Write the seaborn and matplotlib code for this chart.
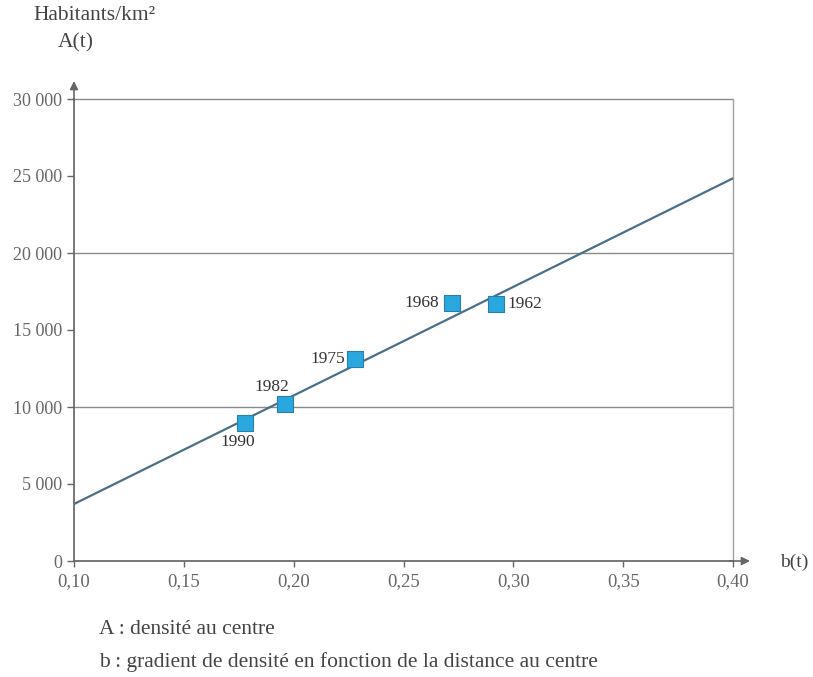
import matplotlib
matplotlib.use("Agg")
import matplotlib.pyplot as plt
import seaborn as sns
import pandas as pd
from matplotlib.ticker import FixedLocator, FuncFormatter

# Data
years = ["1990", "1982", "1975", "1968", "1962"]
b_vals = [0.178, 0.196, 0.228, 0.272, 0.292]
A_vals = [8980, 10190, 13100, 16770, 16690]
fit_b = [0.10, 0.40]
fit_A = [3700, 24850]
x_ticks = [0.10, 0.15, 0.20, 0.25, 0.30, 0.35, 0.40]
y_ticks = [0, 5000, 10000, 15000, 20000, 25000, 30000]
grid_y = [10000, 20000, 30000]

sns.set_theme(style="white")
plt.rcParams["font.family"] = ["Liberation Serif", "DejaVu Serif"]

df = pd.DataFrame({"year": years, "b": b_vals, "A": A_vals})
fit = pd.DataFrame({"b": fit_b, "A": fit_A})

fig = plt.figure(figsize=(8.13, 6.77), dpi=100)
L, R, T, B = 74, 733, 99, 561
ax = fig.add_axes([L/813, 1-B/677, (R-L)/813, (B-T)/677])

for gy in grid_y:
    ax.axhline(gy, color="#8a8a8a", lw=1.0, zorder=1, clip_on=False)
ax.axvline(0.40, color="#a0a0a0", lw=1.0, zorder=1, clip_on=False)

sns.lineplot(data=fit, x="b", y="A", ax=ax, color="#4a7089", lw=1.6, zorder=2)
sns.scatterplot(data=df, x="b", y="A", ax=ax, marker="s", s=120,
                color="#29a8e0", edgecolor="#2a7fa8", linewidth=0.8, zorder=3)

offsets = {"1990": (-5.5, -14), "1982": (-9.5, 12.2),
           "1975": (-20, 0), "1968": (-21.5, 0),
           "1962": (21, 0)}
for y, bx, ay in zip(years, b_vals, A_vals):
    dx, dy = offsets[y]
    ax.annotate(y, (bx, ay), xytext=(dx, dy), textcoords="offset points",
                ha="center", va="center", fontsize=12.5, color="#333333")

ax.set_xlim(0.10, 0.40)
ax.set_ylim(0, 30000)
ax.xaxis.set_major_locator(FixedLocator(x_ticks))
ax.yaxis.set_major_locator(FixedLocator(y_ticks))
ax.xaxis.set_major_formatter(FuncFormatter(lambda v, p: f"{v:.2f}".replace(".", ",")))
ax.yaxis.set_major_formatter(FuncFormatter(lambda v, p: f"{int(v):,}".replace(",", " ")))
ax.tick_params(axis="y", labelsize=13, colors="#666666", length=5, width=1,
               direction="out", left=True, pad=3.5)
ax.tick_params(axis="x", labelsize=13.5, colors="#666666", length=4, width=1,
               direction="out", bottom=True, pad=5)
ax.set_xlabel("")
ax.set_ylabel("")
for s in ["top", "right"]:
    ax.spines[s].set_visible(False)
ax.spines["left"].set_color("#666666")
ax.spines["bottom"].set_color("#666666")

# arrows
ax.annotate("", xy=(0, 1.045), xytext=(0, 0.99), xycoords="axes fraction",
            arrowprops=dict(arrowstyle="-|>", color="#666666", lw=1.2, mutation_scale=12),
            annotation_clip=False)
ax.annotate("", xy=(1.03, 0), xytext=(0.99, 0), xycoords="axes fraction",
            arrowprops=dict(arrowstyle="-|>", color="#666666", lw=1.2, mutation_scale=12),
            annotation_clip=False)

fig.text(33/813, 1-16/677, "Habitants/km²", fontsize=15.5, color="#444444", va="center")
fig.text(58/813, 1-43/677, "A(t)", fontsize=15.5, color="#444444", va="center")
fig.text(780/813, 1-562/677, "b(t)", fontsize=14, color="#444444", va="center")
fig.text(99/813, 1-630/677, "A : densité au centre", fontsize=15.5, color="#444444", va="center")
fig.text(99/813, 1-662/677, "b : gradient de densité en fonction de la distance au centre",
         fontsize=15.5, color="#444444", va="center")

fig.savefig("out.png", dpi=100)
